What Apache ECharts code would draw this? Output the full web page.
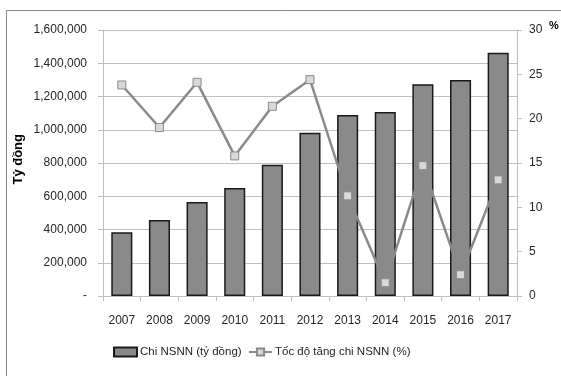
<!DOCTYPE html>
<html>
<head>
<meta charset="utf-8">
<script src="https://cdn.jsdelivr.net/npm/echarts@6/dist/echarts.min.js"></script>
<style>
  html, body { margin: 0; padding: 0; background: #fff; }
  #chart { width: 561px; height: 376px; }
</style>
</head>
<body>
<div id="chart"></div>
<script>
// Years on the category axis
const years = ['2007', '2008', '2009', '2010', '2011', '2012', '2013', '2014', '2015', '2016', '2017'];
// State budget expenditure, billion VND
const spending = [383000, 457000, 565000, 650000, 790000, 982000, 1089000, 1107000, 1273000, 1299000, 1463000];
// Year-on-year growth of expenditure, %
const growth = [23.8, 19.0, 24.1, 15.8, 21.4, 24.4, 11.3, 1.5, 14.7, 2.4, 13.1];
// Tick values
const leftTicks = [0, 200000, 400000, 600000, 800000, 1000000, 1200000, 1400000, 1600000];
const rightTicks = [0, 5, 10, 15, 20, 25, 30];

const FONT = '"Liberation Sans", Arial, sans-serif';
const TXT = '#262626';
const AXIS = '#bfbfbf';

const BAR_NAME = 'Chi NSNN (tỷ đồng)';
const LINE_NAME = 'Tốc độ tăng chi NSNN (%)';

const chart = echarts.init(document.getElementById('chart'), null, { renderer: 'canvas' });

const fmtThousands = v => v === 0 ? '-' : v.toLocaleString('en-US');

const legendBase = {
  top: 346,
  itemWidth: 23,
  itemHeight: 9,
  padding: 0,
  textStyle: { fontFamily: FONT, fontSize: 11.5, color: TXT, padding: [0, 0, 0, -2] }
};

chart.setOption({
  animation: false,
  backgroundColor: '#ffffff',
  textStyle: { fontFamily: FONT },
  graphic: [
    {
      type: 'rect',
      shape: { x: 6.5, y: 10.5, width: 700, height: 500 },
      style: { fill: 'none', stroke: '#8a8a8a', lineWidth: 1 },
      silent: true
    },
    {
      type: 'text',
      left: 12, top: 134,
      rotation: Math.PI / 2,
      style: { text: 'Tỷ đồng', font: 'bold 13px ' + FONT, fill: '#000' }
    },
    {
      type: 'text',
      left: 549, top: 20,
      style: { text: '%', font: 'bold 11px ' + FONT, fill: '#000' }
    }
  ],
  grid: { left: 103, right: 44, top: 30, bottom: 80 },
  legend: [
    Object.assign({}, legendBase, { left: 113, data: [{ name: BAR_NAME, icon: 'rect' }] }),
    Object.assign({}, legendBase, { left: 248, data: [{ name: LINE_NAME }] })
  ],
  xAxis: {
    type: 'category',
    data: years,
    axisLine: { lineStyle: { color: AXIS, width: 1 } },
    axisTick: { show: true, length: 5, lineStyle: { color: AXIS } },
    axisLabel: { interval: 0, fontFamily: FONT, fontSize: 12, color: TXT, margin: 19 }
  },
  yAxis: [
    {
      type: 'value',
      min: 0, max: 1600000, interval: 200000,
      axisLine: { show: true, lineStyle: { color: AXIS } },
      axisTick: { show: true, length: 5, lineStyle: { color: AXIS } },
      splitLine: { lineStyle: { color: AXIS, width: 1 } },
      axisLabel: {
        fontFamily: FONT, fontSize: 12, color: TXT, margin: 16,
        formatter: v => leftTicks.includes(v) ? fmtThousands(v) : ''
      }
    },
    {
      type: 'value',
      min: 0, max: 30, interval: 5,
      position: 'right',
      axisLine: { show: true, lineStyle: { color: AXIS } },
      axisTick: { show: true, length: 5, lineStyle: { color: AXIS } },
      splitLine: { show: false },
      axisLabel: {
        fontFamily: FONT, fontSize: 12, color: TXT, margin: 12,
        formatter: v => rightTicks.includes(v) ? String(v) : ''
      }
    }
  ],
  series: [
    {
      name: BAR_NAME,
      type: 'bar',
      yAxisIndex: 0,
      data: spending,
      barCategoryGap: '44%',
      itemStyle: { color: '#8a8a8a', borderColor: '#1a1a1a', borderWidth: 1.5 }
    },
    {
      name: LINE_NAME,
      type: 'line',
      yAxisIndex: 1,
      data: growth,
      symbol: 'rect',
      symbolSize: 8,
      lineStyle: { color: '#8a8a8a', width: 2.5 },
      itemStyle: { color: '#d9d9d9', borderColor: '#8a8a8a', borderWidth: 1 }
    }
  ]
});
</script>
</body>
</html>
